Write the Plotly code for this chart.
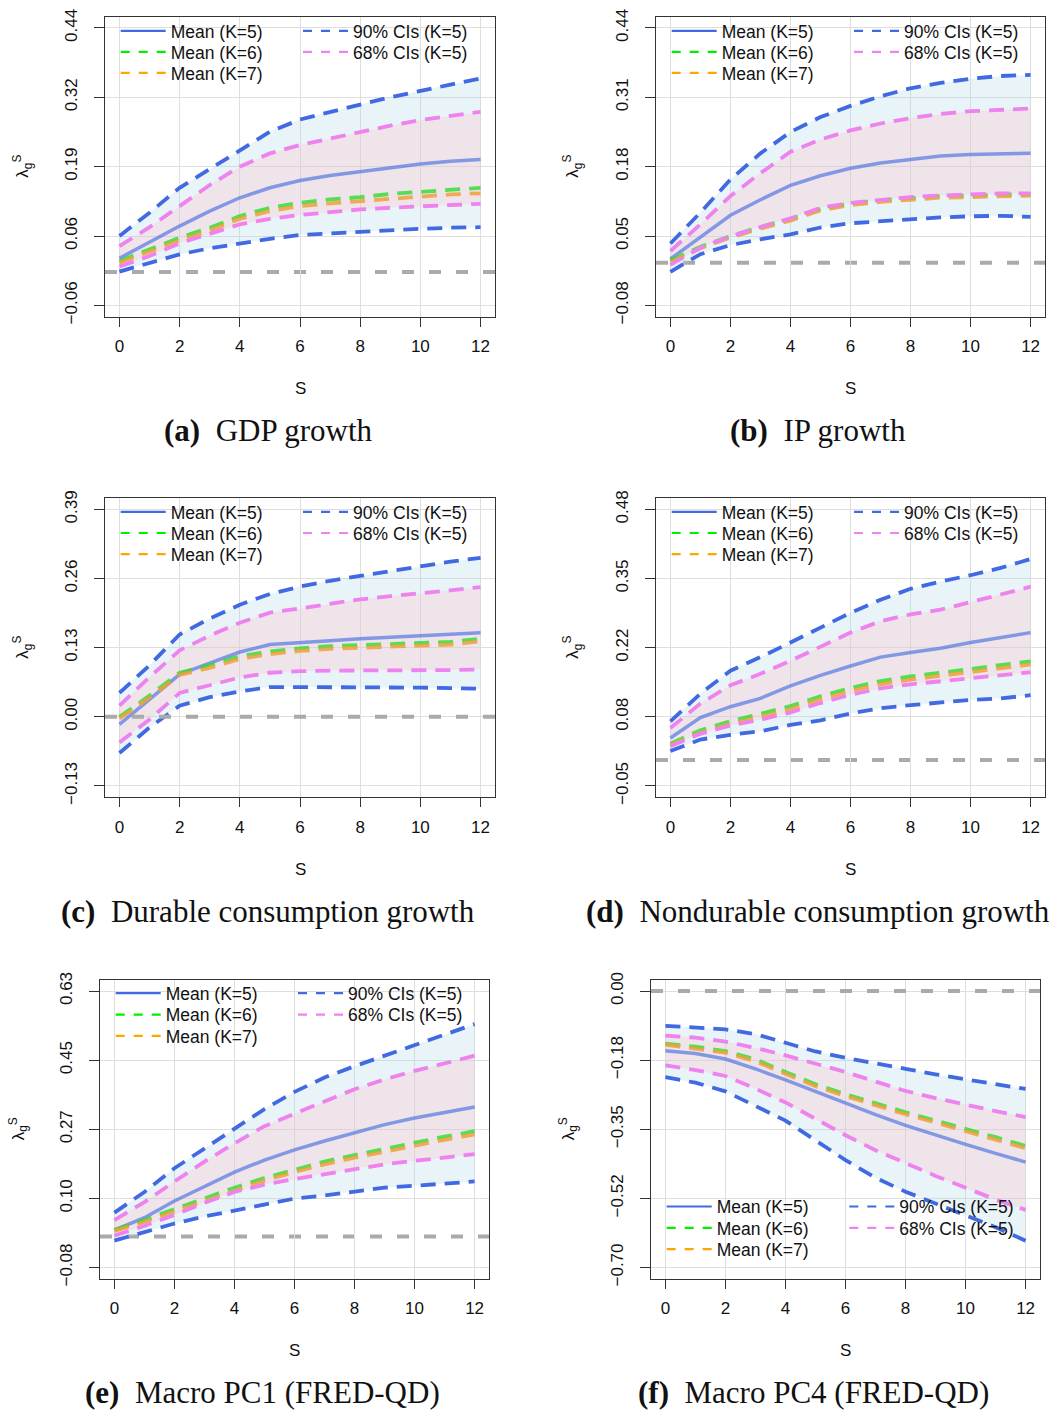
import plotly.graph_objects as go

W, H = 1059, 1427

# ---------------- data ----------------
S = list(range(13))
S_TICKS = [0, 2, 4, 6, 8, 10, 12]

# (a) GDP growth
gdp_mean5 = [0.025, 0.054, 0.083, 0.110, 0.134, 0.152, 0.165, 0.174, 0.181, 0.189, 0.195, 0.200, 0.203]
gdp_mean6 = [0.020, 0.041, 0.062, 0.080, 0.101, 0.116, 0.125, 0.131, 0.135, 0.141, 0.145, 0.149, 0.152]
gdp_mean7 = [0.017, 0.037, 0.057, 0.075, 0.096, 0.110, 0.119, 0.124, 0.128, 0.133, 0.137, 0.140, 0.142]
gdp_hi90 = [0.065, 0.107, 0.152, 0.186, 0.220, 0.253, 0.275, 0.289, 0.302, 0.315, 0.327, 0.338, 0.349]
gdp_hi68 = [0.047, 0.081, 0.119, 0.157, 0.190, 0.214, 0.229, 0.241, 0.253, 0.264, 0.274, 0.281, 0.289]
gdp_lo68 = [0.010, 0.029, 0.052, 0.069, 0.086, 0.096, 0.103, 0.108, 0.113, 0.116, 0.119, 0.121, 0.123]
gdp_lo90 = [0.001, 0.017, 0.032, 0.043, 0.052, 0.060, 0.067, 0.070, 0.073, 0.075, 0.078, 0.080, 0.081]

# (b) IP growth
ip_mean5 = [0.007, 0.048, 0.089, 0.118, 0.145, 0.163, 0.177, 0.187, 0.194, 0.200, 0.203, 0.204, 0.205]
ip_mean6 = [0.004, 0.030, 0.050, 0.067, 0.082, 0.101, 0.111, 0.117, 0.121, 0.125, 0.126, 0.128, 0.129]
ip_mean7 = [0.001, 0.027, 0.047, 0.064, 0.079, 0.098, 0.108, 0.114, 0.118, 0.122, 0.123, 0.125, 0.126]
ip_hi90 = [0.036, 0.094, 0.156, 0.205, 0.245, 0.273, 0.294, 0.312, 0.327, 0.337, 0.345, 0.350, 0.352]
ip_hi68 = [0.022, 0.072, 0.125, 0.168, 0.208, 0.231, 0.248, 0.261, 0.271, 0.279, 0.284, 0.287, 0.289]
ip_lo68 = [-0.004, 0.028, 0.049, 0.067, 0.083, 0.103, 0.112, 0.118, 0.123, 0.126, 0.128, 0.130, 0.130]
ip_lo90 = [-0.017, 0.016, 0.033, 0.044, 0.053, 0.066, 0.074, 0.078, 0.082, 0.085, 0.087, 0.088, 0.086]

# (c) Durable consumption growth
dur_mean5 = [-0.014, 0.032, 0.080, 0.101, 0.122, 0.136, 0.139, 0.143, 0.147, 0.150, 0.153, 0.155, 0.158]
dur_mean6 = [0.000, 0.040, 0.083, 0.097, 0.114, 0.123, 0.129, 0.133, 0.135, 0.137, 0.139, 0.141, 0.147]
dur_mean7 = [-0.003, 0.036, 0.079, 0.092, 0.109, 0.118, 0.124, 0.128, 0.130, 0.132, 0.134, 0.136, 0.142]
dur_hi90 = [0.045, 0.097, 0.155, 0.185, 0.211, 0.231, 0.245, 0.256, 0.265, 0.274, 0.284, 0.292, 0.299]
dur_hi68 = [0.021, 0.075, 0.125, 0.153, 0.177, 0.196, 0.204, 0.213, 0.221, 0.227, 0.232, 0.238, 0.244]
dur_lo68 = [-0.048, -0.005, 0.045, 0.060, 0.074, 0.083, 0.086, 0.087, 0.087, 0.087, 0.087, 0.088, 0.089]
dur_lo90 = [-0.068, -0.020, 0.021, 0.037, 0.048, 0.056, 0.056, 0.056, 0.056, 0.056, 0.055, 0.054, 0.053]

# (d) Nondurable consumption growth
nd_mean5 = [0.042, 0.081, 0.102, 0.118, 0.142, 0.162, 0.180, 0.197, 0.206, 0.214, 0.225, 0.235, 0.244]
nd_mean6 = [0.031, 0.057, 0.074, 0.088, 0.103, 0.122, 0.138, 0.151, 0.160, 0.167, 0.174, 0.182, 0.189]
nd_mean7 = [0.028, 0.052, 0.069, 0.082, 0.097, 0.116, 0.132, 0.145, 0.154, 0.161, 0.168, 0.176, 0.183]
nd_hi90 = [0.074, 0.127, 0.171, 0.197, 0.225, 0.254, 0.282, 0.307, 0.328, 0.342, 0.354, 0.368, 0.385]
nd_hi68 = [0.061, 0.108, 0.143, 0.165, 0.190, 0.217, 0.244, 0.266, 0.279, 0.288, 0.302, 0.317, 0.332]
nd_lo68 = [0.026, 0.050, 0.066, 0.077, 0.091, 0.109, 0.125, 0.137, 0.145, 0.151, 0.156, 0.162, 0.168]
nd_lo90 = [0.017, 0.039, 0.048, 0.055, 0.067, 0.076, 0.089, 0.099, 0.105, 0.110, 0.115, 0.118, 0.124]

# (e) Macro PC1 (FRED-QD)
pc1_mean5 = [0.016, 0.048, 0.091, 0.129, 0.165, 0.196, 0.222, 0.245, 0.266, 0.287, 0.304, 0.319, 0.332]
pc1_mean6 = [0.017, 0.042, 0.070, 0.098, 0.125, 0.150, 0.172, 0.192, 0.209, 0.225, 0.240, 0.256, 0.270]
pc1_mean7 = [0.014, 0.037, 0.064, 0.091, 0.118, 0.143, 0.165, 0.185, 0.202, 0.218, 0.233, 0.248, 0.262]
pc1_hi90 = [0.061, 0.114, 0.175, 0.226, 0.277, 0.327, 0.371, 0.408, 0.437, 0.464, 0.492, 0.518, 0.545]
pc1_hi68 = [0.042, 0.088, 0.141, 0.192, 0.239, 0.283, 0.315, 0.346, 0.378, 0.403, 0.425, 0.444, 0.464]
pc1_lo68 = [0.002, 0.027, 0.055, 0.086, 0.114, 0.133, 0.147, 0.160, 0.174, 0.185, 0.194, 0.202, 0.211]
pc1_lo90 = [-0.011, 0.010, 0.033, 0.051, 0.067, 0.081, 0.097, 0.105, 0.116, 0.125, 0.130, 0.135, 0.141]

# (f) Macro PC4 (FRED-QD)
pc4_mean5 = [-0.151, -0.158, -0.172, -0.197, -0.225, -0.255, -0.284, -0.313, -0.340, -0.365, -0.388, -0.411, -0.433]
pc4_mean6 = [-0.133, -0.141, -0.152, -0.173, -0.205, -0.236, -0.261, -0.285, -0.307, -0.328, -0.348, -0.370, -0.392]
pc4_mean7 = [-0.136, -0.145, -0.156, -0.178, -0.210, -0.241, -0.266, -0.290, -0.312, -0.333, -0.354, -0.376, -0.398]
pc4_hi90 = [-0.088, -0.092, -0.097, -0.109, -0.132, -0.153, -0.169, -0.184, -0.197, -0.211, -0.223, -0.236, -0.248]
pc4_hi68 = [-0.113, -0.118, -0.128, -0.144, -0.163, -0.184, -0.205, -0.229, -0.253, -0.271, -0.288, -0.304, -0.319]
pc4_lo68 = [-0.188, -0.200, -0.215, -0.247, -0.282, -0.323, -0.365, -0.403, -0.436, -0.468, -0.498, -0.528, -0.554]
pc4_lo90 = [-0.218, -0.232, -0.254, -0.290, -0.328, -0.378, -0.428, -0.473, -0.508, -0.538, -0.567, -0.598, -0.632]

# y-axis ranges (min, max of tick grid) and tick labels
gdp_ylim, gdp_yticklabels = (-0.06, 0.44), ["\u22120.06", "0.06", "0.19", "0.32", "0.44"]
ip_ylim, ip_yticklabels = (-0.08, 0.44), ["\u22120.08", "0.05", "0.18", "0.31", "0.44"]
dur_ylim, dur_yticklabels = (-0.13, 0.39), ["\u22120.13", "0.00", "0.13", "0.26", "0.39"]
nd_ylim, nd_yticklabels = (-0.05, 0.48), ["\u22120.05", "0.08", "0.22", "0.35", "0.48"]
pc1_ylim, pc1_yticklabels = (-0.08, 0.63), ["\u22120.08", "0.10", "0.27", "0.45", "0.63"]
pc4_ylim, pc4_yticklabels = (-0.70, 0.00), ["\u22120.70", "\u22120.52", "\u22120.35", "\u22120.18", "0.00"]

captions = [
    "<b>(a)</b>&nbsp;&nbsp;GDP growth",
    "<b>(b)</b>&nbsp;&nbsp;IP growth",
    "<b>(c)</b>&nbsp;&nbsp;Durable consumption growth",
    "<b>(d)</b>&nbsp;&nbsp;Nondurable consumption growth",
    "<b>(e)</b>&nbsp;&nbsp;Macro PC1 (FRED-QD)",
    "<b>(f)</b>&nbsp;&nbsp;Macro PC4 (FRED-QD)",
]
legend_names = ["Mean (K=5)", "Mean (K=6)", "Mean (K=7)", "90% CIs (K=5)", "68% CIs (K=5)"]

# ---------------- layout geometry (pixels) ----------------
# plot box: (left, right, top, bottom)
boxes = [(105, 495, 9, 312), (656, 1045, 9, 312),
         (105, 495, 496, 798), (656, 1045, 496, 798),
         (100, 489, 983, 1285), (651, 1040, 983, 1285)]
caption_pos = [(268, 427), (818, 427), (268, 914), (818, 914), (262, 1400), (813, 1400)]
# legend: (col1 sample start x, col2 sample start x, row1 y, row spacing)
legend_geo = [(120.7, 303, 31.7, 21.3), (671.7, 854, 31.7, 21.3),
              (120.7, 303, 518.3, 21.3), (671.7, 854, 518.3, 21.3),
              (115.7, 298, 1005, 21.6), (666.7, 849.3, 1220.7, 21.6)]
LEG_Y_FIX = -8.5
ytitle_x = [23, 573, 23, 573, 18, 568]
# zero line drawn over the data where 0 coincides with a grid line
zero_layer = ["below", "below", "above", "below", "below", "above"]

panels = [
    (gdp_mean5, gdp_mean6, gdp_mean7, gdp_hi90, gdp_hi68, gdp_lo68, gdp_lo90, gdp_ylim, gdp_yticklabels),
    (ip_mean5, ip_mean6, ip_mean7, ip_hi90, ip_hi68, ip_lo68, ip_lo90, ip_ylim, ip_yticklabels),
    (dur_mean5, dur_mean6, dur_mean7, dur_hi90, dur_hi68, dur_lo68, dur_lo90, dur_ylim, dur_yticklabels),
    (nd_mean5, nd_mean6, nd_mean7, nd_hi90, nd_hi68, nd_lo68, nd_lo90, nd_ylim, nd_yticklabels),
    (pc1_mean5, pc1_mean6, pc1_mean7, pc1_hi90, pc1_hi68, pc1_lo68, pc1_lo90, pc1_ylim, pc1_yticklabels),
    (pc4_mean5, pc4_mean6, pc4_mean7, pc4_hi90, pc4_hi68, pc4_lo68, pc4_lo90, pc4_ylim, pc4_yticklabels),
]

# ---------------- styles ----------------
SANS = "Liberation Sans"
SERIF = "Liberation Serif"
C_MEAN5 = "rgba(65,105,225,0.62)"
C_MEAN6 = "rgba(40,220,40,0.78)"
C_MEAN7 = "rgba(240,160,60,0.85)"
C_CI90 = "#4169E1"
C_CI68 = "#EE82EE"
F_90 = "rgba(173,216,230,0.28)"
F_68 = "rgba(255,192,203,0.30)"
LEG_COLORS = ["#4169E1", "#00EE00", "#FFA500", "#4169E1", "#EE82EE"]
LEG_DASH = ["solid", "9px,9px", "9px,9px", "9px,9px", "9px,9px"]
DASH = "15px,9px"

fig = go.Figure()
layout = dict(width=W, height=H, margin=dict(l=0, r=0, t=0, b=0, pad=0), autosize=False,
              paper_bgcolor="white", plot_bgcolor="white", showlegend=True,
              font=dict(family=SANS, size=17, color="#111"))
annotations = []
shapes = []
leg_count = 0

for i, (m5, m6, m7, h90, h68, l68, l90, ylim, ylabels) in enumerate(panels):
    n = i + 1
    xa = "x" if n == 1 else f"x{n}"
    ya = "y" if n == 1 else f"y{n}"
    L, R, T, B = boxes[i]
    ymin, ymax = ylim
    span = ymax - ymin
    yticks = [ymin + k * span / 4 for k in range(5)]

    layout["xaxis" if n == 1 else f"xaxis{n}"] = dict(
        domain=[L / W, R / W], anchor=ya, range=[-0.48, 12.48],
        tickvals=S_TICKS, ticks="outside", ticklen=9, tickcolor="#333",
        showline=True, linecolor="#333", linewidth=1.2, mirror=True,
        showgrid=True, gridcolor="#dedede", gridwidth=1, zeroline=False,
        tickfont=dict(family=SANS, size=17, color="#111"), ticklabelstandoff=5)
    layout["yaxis" if n == 1 else f"yaxis{n}"] = dict(
        domain=[1 - B / H, 1 - T / H], anchor=xa,
        range=[ymin - 0.04 * span, ymax + 0.04 * span],
        tickvals=yticks, ticktext=ylabels, tickangle=-90,
        ticks="outside", ticklen=10, tickcolor="#333",
        showline=True, linecolor="#333", linewidth=1.2, mirror=True,
        showgrid=True, gridcolor="#dedede", gridwidth=1, zeroline=False,
        tickfont=dict(family=SANS, size=17, color="#111"), ticklabelstandoff=10)

    common = dict(x=S, xaxis=xa, yaxis=ya, showlegend=False, hoverinfo="skip")
    # bands
    fig.add_trace(go.Scatter(y=l90, mode="lines", line=dict(width=0), **common))
    fig.add_trace(go.Scatter(y=h90, mode="lines", line=dict(width=0), fill="tonexty", fillcolor=F_90, **common))
    fig.add_trace(go.Scatter(y=l68, mode="lines", line=dict(width=0), **common))
    fig.add_trace(go.Scatter(y=h68, mode="lines", line=dict(width=0), fill="tonexty", fillcolor=F_68, **common))
    # lines
    fig.add_trace(go.Scatter(y=m5, mode="lines", line=dict(color=C_MEAN5, width=3.5), **common))
    fig.add_trace(go.Scatter(y=m6, mode="lines", line=dict(color=C_MEAN6, width=3.8, dash=DASH), **common))
    fig.add_trace(go.Scatter(y=m7, mode="lines", line=dict(color=C_MEAN7, width=3.8, dash=DASH), **common))
    fig.add_trace(go.Scatter(y=h90, mode="lines", line=dict(color=C_CI90, width=3.8, dash=DASH), **common))
    fig.add_trace(go.Scatter(y=l90, mode="lines", line=dict(color=C_CI90, width=3.8, dash=DASH), **common))
    fig.add_trace(go.Scatter(y=h68, mode="lines", line=dict(color=C_CI68, width=3.8, dash=DASH), **common))
    fig.add_trace(go.Scatter(y=l68, mode="lines", line=dict(color=C_CI68, width=3.8, dash=DASH), **common))

    # zero reference line
    shapes.append(dict(type="line", xref=f"{xa} domain", yref=ya, x0=0, x1=1, y0=0, y1=0,
                       line=dict(color="#aaaaaa", width=4, dash="12px,15px"), layer=zero_layer[i]))

    # legends (one legend per entry, positioned like the two-column R legend)
    c1, c2, r1, dy = legend_geo[i]
    slots = [(c1, r1), (c1, r1 + dy), (c1, r1 + 2 * dy), (c2, r1), (c2, r1 + dy)]
    for k, name in enumerate(legend_names):
        leg_count += 1
        lk = "legend" if leg_count == 1 else f"legend{leg_count}"
        sx, sy = slots[k]
        fig.add_trace(go.Scatter(x=[None], y=[None], mode="lines", name=name, legend=lk,
                                 xaxis=xa, yaxis=ya, showlegend=True, hoverinfo="skip",
                                 line=dict(color=LEG_COLORS[k], width=2.2, dash=LEG_DASH[k])))
        layout[lk] = dict(x=(sx - 5) / W, y=1 - (sy + LEG_Y_FIX) / H, xanchor="left", yanchor="middle",
                          bgcolor="rgba(0,0,0,0)", borderwidth=0, itemwidth=45,
                          font=dict(family=SANS, size=17.5, color="#111"),
                          itemclick=False, itemdoubleclick=False)

    # axis titles and caption
    xc = (L + R) / 2
    annotations.append(dict(text="S", x=xc / W, y=1 - (B + 73) / H, xref="paper", yref="paper",
                            xanchor="center", yanchor="middle", showarrow=False,
                            font=dict(family=SANS, size=17, color="#111")))
    annotations.append(dict(text="\u03bb<sub>g</sub><sup>S</sup>", x=ytitle_x[i] / W, y=1 - (T + B) / 2 / H,
                            xref="paper", yref="paper", xanchor="center", yanchor="middle",
                            textangle=-90, showarrow=False,
                            font=dict(family=SANS, size=17, color="#111")))
    cx, cy = caption_pos[i]
    annotations.append(dict(text=captions[i], x=cx / W, y=1 - cy / H, xref="paper", yref="paper",
                            xanchor="center", yanchor="middle", showarrow=False,
                            font=dict(family=SERIF, size=31, color="#111")))

layout["annotations"] = annotations
layout["shapes"] = shapes
fig.update_layout(**layout)
fig.write_html("out.html", config={"displayModeBar": False},
               post_script="document.body.style.margin='0';document.body.style.padding='0';"
                           "document.documentElement.style.overflow='hidden';")
